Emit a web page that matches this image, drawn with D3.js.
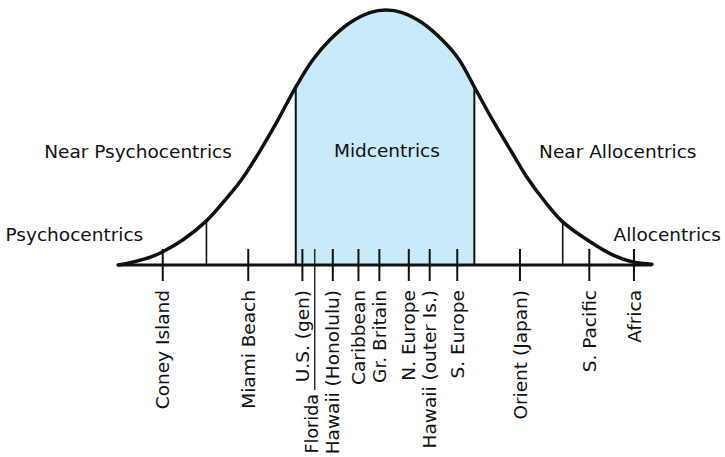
<!DOCTYPE html>
<html>
<head>
<meta charset="utf-8">
<script src="https://cdn.jsdelivr.net/npm/d3@7"></script>
<style>
  body { margin: 0; background: #fff; }
  text { font-family: "DejaVu Sans", sans-serif; font-size: 18.5px; fill: #111; }
</style>
</head>
<body>
<svg></svg>
<script>
// bell curve
// position = std devs from the mean, height = % of the peak
let curvePos    = [-2.82, -2.66, -2.48, -2.35, -2.14, -1.89, -1.67, -1.51, -1.34, -1.14, -0.95, -0.77, -0.59, -0.38, -0.17, 0,
                   0.17, 0.38, 0.59, 0.77, 0.93, 1.12, 1.32, 1.5, 1.67, 1.86, 2.14, 2.39, 2.6, 2.8];
let curveHeight = [0, 1.2, 3.1, 5.2, 9.8, 17.3, 26.5, 34, 43.9, 56.7, 69.8, 80.5, 88.3, 95, 99, 100,
                   99, 95, 88.3, 80.5, 69.8, 57, 44.5, 33.5, 25, 16.9, 9.3, 3.9, 1.2, 0.3];

// where the segments split
let cutPoints = [-1.89, -0.95, 0.93, 1.86];
let midBand = [-0.95, 0.93];

let segmentNames = ['Psychocentrics', 'Near Psychocentrics', 'Midcentrics', 'Near Allocentrics', 'Allocentrics'];

let destinations = ['Coney Island', 'Miami Beach', 'U.S. (gen)', 'Florida', 'Hawaii (Honolulu)', 'Caribbean',
  'Gr. Britain', 'N. Europe', 'Hawaii (outer Is.)', 'S. Europe', 'Orient (Japan)', 'S. Pacific', 'Africa'];
let destinationPos = [-2.35, -1.45, -0.88, -0.75, -0.56, -0.29, -0.07, 0.24, 0.46, 0.75, 1.41, 2.14, 2.61];

let curve = curvePos.map((p, i) => ({p: p, h: curveHeight[i]}));

let width = 725, height = 457;

let xScale = d3.scaleLinear().domain([-3, 3]).range([101, 671]);
let yScale = d3.scaleLinear().domain([0, 100]).range([265, 10]);

let svg = d3.select('svg')
  .attr('width', width)
  .attr('height', height);

// shaded middle band
svg.append('clipPath')
  .attr('id', 'mid')
  .append('rect')
  .attr('x', xScale(midBand[0]))
  .attr('y', 0)
  .attr('width', xScale(midBand[1]) - xScale(midBand[0]))
  .attr('height', yScale(0));

let smooth = d3.curveCatmullRom.alpha(0.5);

let area = d3.area()
  .x(d => xScale(d.p))
  .y0(yScale(0))
  .y1(d => yScale(d.h))
  .curve(smooth);

svg.append('path')
  .datum(curve)
  .attr('d', area)
  .attr('clip-path', 'url(#mid)')
  .attr('fill', '#c8eaf9');

// segment dividers, baseline up to the curve
svg.selectAll('.cut')
  .data(cutPoints)
  .enter().append('line')
  .attr('x1', d => xScale(d))
  .attr('x2', d => xScale(d))
  .attr('y1', yScale(0))
  .attr('y2', d => yScale(curveHeight[curvePos.indexOf(d)]))
  .attr('stroke', '#111')
  .attr('stroke-width', (d, i) => (i == 1 || i == 2) ? 2 : 1.6);

// destination ticks
let tickLen = 16;
svg.selectAll('.tick')
  .data(destinations)
  .enter().append('line')
  .attr('x1', (d, i) => xScale(destinationPos[i]))
  .attr('x2', (d, i) => xScale(destinationPos[i]))
  .attr('y1', yScale(0) - tickLen)
  .attr('y2', d => d == 'Florida' ? yScale(0) + 125 : yScale(0) + tickLen)
  .attr('stroke', '#111')
  .attr('stroke-width', d => d == 'Florida' ? 1.3 : 2);

// baseline
let ends = d3.extent(curvePos);
svg.append('line')
  .attr('x1', xScale(ends[0]))
  .attr('x2', xScale(ends[1]))
  .attr('y1', yScale(0))
  .attr('y2', yScale(0))
  .attr('stroke', '#111')
  .attr('stroke-width', 3);

// the curve
let line = d3.line()
  .x(d => xScale(d.p))
  .y(d => yScale(d.h))
  .curve(smooth);

svg.append('path')
  .datum(curve)
  .attr('d', line)
  .attr('fill', 'none')
  .attr('stroke', '#111')
  .attr('stroke-width', 3.5)
  .attr('stroke-linecap', 'round');

// destination labels, rotated
svg.selectAll('.dest')
  .data(destinations)
  .enter().append('text')
  .attr('transform', (d, i) => {
    let x = xScale(destinationPos[i]);
    let y = yScale(0) + 25;
    if (d == 'Florida') { x -= 3; y = yScale(0) + 129; }
    return `translate(${x},${y}) rotate(-90)`;
  })
  .attr('dy', '0.36em')
  .attr('text-anchor', 'end')
  .style('font-size', d => d == 'Florida' ? '17.5px' : null)
  .text(d => d);

// segment labels: [centre position, height level]
let segLayout = [[-3.28, 9.4], [-2.61, 42], [0.01, 42.4], [2.44, 42], [2.96, 9.4]];
svg.selectAll('.seg')
  .data(segmentNames)
  .enter().append('text')
  .attr('x', (d, i) => xScale(segLayout[i][0]))
  .attr('y', (d, i) => yScale(segLayout[i][1]))
  .attr('text-anchor', 'middle')
  .text(d => d);
</script>
</body>
</html>
